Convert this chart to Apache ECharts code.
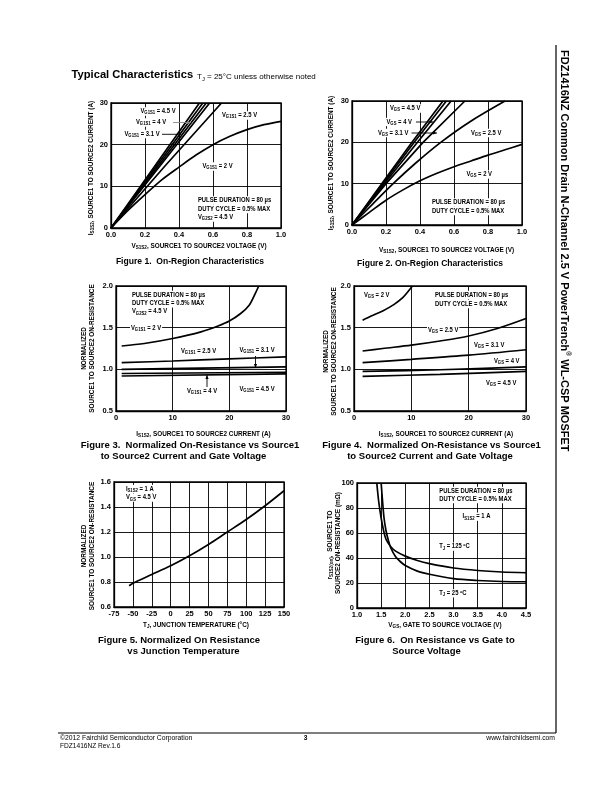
<!DOCTYPE html>
<html><head><meta charset="utf-8">
<script src="https://cdn.jsdelivr.net/npm/echarts@6/dist/echarts.min.js"></script>
<style>html,body{margin:0;padding:0;background:#fff}#c{width:612px;height:792px}</style>
</head><body><div id="c"></div>
<script>
// ---------- Figure 1 : I vs V (VG1S1) ----------
const f1_vg45 = [[0,0],[0.26,15],[0.52,30]];
const f1_vg4  = [[0,0],[0.27,15],[0.54,30]];
const f1_vg31 = [[0,0],[0.28,15],[0.56,30]];
const f1_vgx  = [[0,0],[0.29,15],[0.58,30]];
const f1_vg25 = [[0,0],[0.32,15],[0.65,30]];
const f1_vg2  = [[0,0],[0.1,4.2],[0.2,8],[0.3,11.6],[0.4,14.6],[0.5,17.5],[0.6,20],[0.7,22],[0.8,23.6],[0.9,24.8],[1.0,25.6]];
// ---------- Figure 2 : I vs V (VGS) ----------
const f2_vgs45 = [[0,0],[0.175,10],[0.353,20],[0.535,30]];
const f2_vgs4  = [[0,0],[0.182,10],[0.366,20],[0.555,30]];
const f2_vgsx  = [[0,0],[0.19,10],[0.385,20],[0.583,30]];
const f2_vgs31 = [[0,0],[0.2,10],[0.418,20],[0.664,30]];
const f2_vgs25 = [[0,0],[0.12,5],[0.242,10],[0.375,15],[0.522,20],[0.694,25],[0.9,30]];
const f2_vgs2  = [[0,0],[0.1,3],[0.2,6],[0.3,8.5],[0.4,10.7],[0.5,12.5],[0.6,14.1],[0.7,15.5],[0.8,16.9],[0.9,18.2],[1.0,19.5]];
// ---------- Figure 3 : normalized R vs I (VG1S1) ----------
const f3_vg2  = [[1,1.28],[5,1.31],[10,1.37],[15,1.45],[18,1.52],[20,1.58],[22,1.67],[23.5,1.77],[24.5,1.9],[25.2,2.0]];
const f3_vg25 = [[1,1.08],[10,1.10],[20,1.125],[30,1.15]];
const f3_vg31 = [[1,1.0],[15,1.015],[30,1.03]];
const f3_vg4  = [[1,0.95],[30,0.965]];
const f3_vg45 = [[1,0.92],[30,0.945]];
// ---------- Figure 4 : normalized R vs I (VGS) ----------
const f4_vgs2  = [[1.5,1.59],[3,1.64],[5,1.70],[7,1.78],[8.5,1.86],[9.5,1.94],[10.2,2.0]];
const f4_vgs25 = [[1.5,1.22],[5,1.25],[10,1.29],[15,1.34],[20,1.40],[25,1.49],[30,1.61]];
const f4_vgs31 = [[1.5,1.08],[10,1.12],[20,1.17],[30,1.235]];
const f4_vgs4  = [[1.5,0.975],[15,0.995],[30,1.03]];
const f4_vgs45 = [[1.5,0.915],[15,0.94],[30,0.975]];
// ---------- Figure 5 : normalized R vs Tj ----------
const f5_r = [[-55,0.77],[-50,0.79],[-25,0.86],[0,0.93],[25,1.01],[50,1.10],[75,1.20],[100,1.30],[125,1.41],[150,1.53]];
// ---------- Figure 6 : R vs VGS ----------
const f6_t25  = [[1.50,100],[1.53,85],[1.56,72],[1.6,62],[1.65,54],[1.7,48],[1.8,41],[1.9,37],[2.0,34],[2.25,29.5],[2.5,27],[3.0,23.5],[3.5,22],[4.0,21.2],[4.5,21]];
const f6_t125 = [[1.41,100],[1.45,85],[1.5,72],[1.55,62],[1.6,55],[1.7,49],[1.8,45.5],[2.0,41.5],[2.25,38],[2.5,35.5],[3.0,32],[3.5,30],[4.0,28.8],[4.5,28.2]];
// axis ranges [min,max,interval,decimals]
const xRanges = [[0,1,0.2,1],[0,1,0.2,1],[0,30,10,0],[0,30,10,0],[-75,150,25,0],[1,4.5,0.5,1]];
const yRanges = [[0,30,10,0],[0,30,10,0],[0.5,2,0.5,1],[0.5,2,0.5,1],[0.6,1.6,0.2,1],[0,100,20,0]];

const FONT = "'Liberation Sans', Arial, sans-serif";

const grids = [
  {left:111, top:103, width:170, height:125},
  {left:352, top:101, width:170, height:124},
  {left:116, top:286, width:170, height:125},
  {left:354, top:286, width:172, height:125},
  {left:114, top:482, width:170, height:125},
  {left:357, top:483, width:169, height:125}
].map(g => Object.assign({show:true, borderColor:'#000', borderWidth:1.3, backgroundColor:'transparent', containLabel:false}, g));

function ax(i, r) {
  return {type:'value', gridIndex:i, min:r[0], max:r[1], interval:r[2],
    axisLine:{show:true, onZero:false, lineStyle:{color:'#000', width:1.3}},
    axisTick:{show:false},
    splitLine:{show:true, lineStyle:{color:'#000', width:0.9}},
    axisLabel:{color:'#000', fontSize:7.5, fontWeight:'bold', fontFamily:FONT, margin:3,
      formatter: v => Number(v).toFixed(r[3])}};
}
const xAxis = xRanges.map((r,i)=>ax(i,r));
const yAxis = yRanges.map((r,i)=>ax(i,r));

const series = [];
function addLine(gi, data, smooth) {
  series.push({type:'line', xAxisIndex:gi, yAxisIndex:gi, data:data, showSymbol:false, symbol:'none',
    smooth: smooth ? 0.3 : false,
    lineStyle:{color:'#000', width:1.7}, silent:true, animation:false, clip:true, z:3});
}
[f1_vg45,f1_vg4,f1_vg31,f1_vgx,f1_vg25].forEach(d=>addLine(0,d,false)); addLine(0,f1_vg2,true);
[f2_vgs45,f2_vgs4,f2_vgsx,f2_vgs31].forEach(d=>addLine(1,d,false)); addLine(1,f2_vgs25,true); addLine(1,f2_vgs2,true);
addLine(2,f3_vg2,true); [f3_vg25,f3_vg31,f3_vg4,f3_vg45].forEach(d=>addLine(2,d,true));
[f4_vgs2,f4_vgs25,f4_vgs31,f4_vgs4,f4_vgs45].forEach(d=>addLine(3,d,true));
addLine(4,f5_r,true);
addLine(5,f6_t25,true); addLine(5,f6_t125,true);

// ---------- annotation helpers ----------
const G = [];
function txt(x, y, text, o) {
  o = o || {};
  const fs = o.fs || 6.4, fw = o.fw || 'bold', ff = o.ff || FONT;
  G.push({type:'text', x:x, y:y, rotation:o.rot||0, scaleX:o.sx||1, z:100, silent:true,
    style:{text:text, fill:'#000', fontSize:fs, fontWeight:fw, fontFamily:ff,
      align:o.align||'left', verticalAlign:'middle', lineHeight:fs*1.3,
      backgroundColor:o.bg ? '#fff' : null, padding:o.bg ? [0,1,0,1] : 0,
      rich:{
        s:{fontSize:fs*0.72, fontWeight:fw, fontFamily:ff, fill:'#000', verticalAlign:'bottom', lineHeight:fs*0.72},
        sup:{fontSize:fs*0.6, fontWeight:fw, fontFamily:ff, fill:'#000', verticalAlign:'top', lineHeight:fs*0.6}
      }}});
}
function seg(x1,y1,x2,y2,color,w) {
  G.push({type:'line', z:101, silent:true, shape:{x1:x1,y1:y1,x2:x2,y2:y2}, style:{stroke:color||'#000', lineWidth:w||0.9}});
}
function arrow(x1,y1,x2,y2,color) {
  seg(x1,y1,x2,y2,color);
  const a = Math.atan2(y2-y1, x2-x1), L = 4, W = 1.6;
  const bx = x2 - L*Math.cos(a), by = y2 - L*Math.sin(a);
  G.push({type:'polygon', z:101, silent:true, shape:{points:[[x2,y2],[bx - W*Math.sin(a), by + W*Math.cos(a)],[bx + W*Math.sin(a), by - W*Math.cos(a)]]}, style:{fill:color||'#000'}});
}
const BG = {bg:true, sx:0.92};
const ROT = {rot:Math.PI/2, align:'center'};
const CEN = {align:'center'};
const CAP = {align:'center', fs:9.5};
const CAP12 = {align:'center', fs:9.5, sx:0.9};

// header
txt(71.5, 75, 'Typical Characteristics', {fs:11.2});
txt(197, 77, 'T{s|J} = 25°C unless otherwise noted', {fs:8, fw:'normal'});

// Figure 1
txt(91.5, 168, 'I{s|S1S2}, SOURCE1 TO SOURCE2 CURRENT (A)', ROT);
txt(199, 246.5, 'V{s|S1S2}, SOURCE1 TO SOURCE2 VOLTAGE (V)', CEN);
txt(190, 261, 'Figure 1.  On-Region Characteristics', CAP12);
txt(139.5, 111.5, 'V{s|G1S1} = 4.5 V', BG);
txt(135, 122.5, 'V{s|G1S1} = 4 V', BG);
arrow(173, 122.5, 191, 122.5, '#888');
txt(123.5, 134, 'V{s|G1S1} = 3.1 V', BG);
seg(162, 134.3, 181, 134.3, '#000');
txt(221, 115.5, 'V{s|G1S1} = 2.5 V', BG);
txt(201.5, 166.5, 'V{s|G1S1} = 2 V', BG);
txt(197, 200.5, 'PULSE DURATION = 80 µs', BG);
txt(197, 209, 'DUTY CYCLE = 0.5% MAX', BG);
txt(197, 217.5, 'V{s|G2S2} = 4.5 V', BG);

// Figure 2
txt(331, 163, 'I{s|S1S2}, SOURCE1 TO SOURCE2 CURRENT (A)', ROT);
txt(446.5, 250, 'V{s|S1S2}, SOURCE1 TO SOURCE2 VOLTAGE (V)', CEN);
txt(430, 263.5, 'Figure 2. On-Region Characteristics', CAP12);
txt(389, 108.5, 'V{s|GS} = 4.5 V', BG);
txt(385.5, 122, 'V{s|GS} = 4 V', BG);
arrow(416, 122, 433, 122);
txt(377, 133, 'V{s|GS} = 3.1 V', BG);
arrow(411.5, 133, 437, 133);
txt(470, 133, 'V{s|GS} = 2.5 V', BG);
txt(465.5, 174.5, 'V{s|GS} = 2 V', BG);
txt(431, 202.5, 'PULSE DURATION = 80 µs', BG);
txt(431, 211, 'DUTY CYCLE = 0.5% MAX', BG);

// Figure 3
txt(84, 348.5, 'NORMALIZED', ROT);
txt(92.3, 348.5, 'SOURCE1 TO SOURCE2 ON-RESISTANCE', ROT);
txt(203.5, 434, 'I{s|S1S2}, SOURCE1 TO SOURCE2 CURRENT (A)', CEN);
txt(190, 445, 'Figure 3.  Normalized On-Resistance vs Source1', CAP);
txt(183.5, 456.5, 'to Source2 Current and Gate Voltage', CAP);
txt(131, 295, 'PULSE DURATION = 80 µs', BG);
txt(131, 303.3, 'DUTY CYCLE = 0.5% MAX', BG);
txt(131, 311.7, 'V{s|G2S2} = 4.5 V', BG);
txt(130, 328.3, 'V{s|G1S1} = 2 V', BG);
txt(180, 351, 'V{s|G1S1} = 2.5 V', BG);
txt(238.5, 350, 'V{s|G1S1} = 3.1 V', BG);
arrow(255.5, 356, 255.5, 368);
txt(186, 391, 'V{s|G1S1} = 4 V', BG);
arrow(207, 387, 207, 375);
txt(238.5, 389.5, 'V{s|G1S1} = 4.5 V', BG);

// Figure 4
txt(326, 351.5, 'NORMALIZED', ROT);
txt(334, 351.5, 'SOURCE1 TO SOURCE2 ON-RESISTANCE', ROT);
txt(446, 434, 'I{s|S1S2}, SOURCE1 TO SOURCE2 CURRENT (A)', CEN);
txt(431.5, 445, 'Figure 4.  Normalized On-Resistance vs Source1', CAP);
txt(430, 456.5, 'to Source2 Current and Gate Voltage', CAP);
txt(363, 295, 'V{s|GS} = 2 V', BG);
txt(434, 295, 'PULSE DURATION = 80 µs', BG);
txt(434, 304, 'DUTY CYCLE = 0.5% MAX', BG);
txt(427, 330.5, 'V{s|GS} = 2.5 V', BG);
txt(473, 345, 'V{s|GS} = 3.1 V', BG);
txt(493, 361, 'V{s|GS} = 4 V', BG);
txt(485, 383.5, 'V{s|GS} = 4.5 V', BG);

// Figure 5
txt(84, 546, 'NORMALIZED', ROT);
txt(92.7, 546, 'SOURCE1 TO SOURCE2 ON-RESISTANCE', ROT);
txt(196, 625.5, 'T{s|J}, JUNCTION TEMPERATURE (°C)', CEN);
txt(179, 640.5, 'Figure 5. Normalized On Resistance', CAP);
txt(183.5, 651.5, 'vs Junction Temperature', CAP);
txt(125, 489, 'I{s|S1S2} = 1 A', BG);
txt(125, 497.7, 'V{s|GS} = 4.5 V', BG);

// Figure 6
txt(330, 545, 'r{s|S1S2(on)},  SOURCE1 TO', ROT);
txt(338.3, 543, 'SOURCE2 ON-RESISTANCE (mΩ)', ROT);
txt(445, 625, 'V{s|GS}, GATE TO SOURCE VOLTAGE (V)', CEN);
txt(435, 640.5, 'Figure 6.  On Resistance vs Gate to', CAP);
txt(426.5, 651.5, 'Source Voltage', CAP);
txt(438.3, 491, 'PULSE DURATION = 80 µs', BG);
txt(438.3, 499, 'DUTY CYCLE = 0.5% MAX', BG);
txt(461.7, 516.7, 'I{s|S1S2} = 1 A', BG);
txt(438.3, 546.7, 'T{s|J} = 125 ºC', BG);
txt(438.3, 593.3, 'T{s|J} = 25 ºC', BG);

// side title, frame, footer
txt(564.5, 50, 'FDZ1416NZ Common Drain N-Channel 2.5 V PowerTrench{sup|®} WL-CSP MOSFET', {rot:-Math.PI/2, fs:11});
seg(556, 45, 556, 733, '#000', 1.2);
seg(58, 733, 556, 733, '#000', 1.2);
txt(60, 738.5, '©2012 Fairchild Semiconductor Corporation', {fs:6.8, fw:'normal'});
txt(60, 746, 'FDZ1416NZ Rev.1.6', {fs:6.6, fw:'normal'});
txt(305.5, 738.5, '3', {fs:6.6, align:'center'});
txt(555, 738.5, 'www.fairchildsemi.com', {fs:6.8, fw:'normal', align:'right'});

const chart = echarts.init(document.getElementById('c'), null, {renderer:'canvas'});
chart.setOption({
  backgroundColor:'#fff', animation:false,
  grid:grids, xAxis:xAxis, yAxis:yAxis, series:series,
  graphic:{elements:G}
});
</script></body></html>
